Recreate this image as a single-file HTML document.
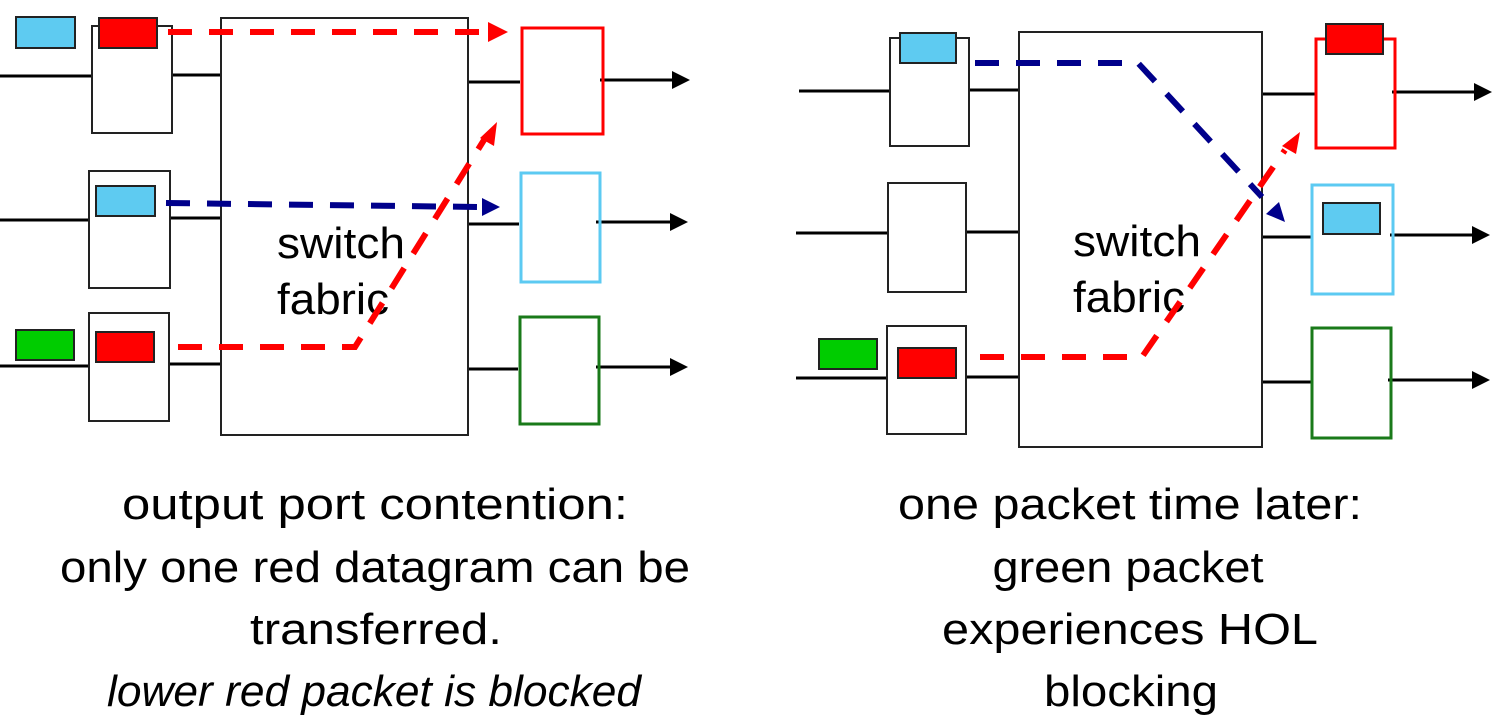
<!DOCTYPE html>
<html><head><meta charset="utf-8"><style>
html,body{margin:0;padding:0;background:#fff;}
svg{display:block;}
text{font-family:"Liberation Sans",sans-serif;fill:#000;}
</style></head><body>
<svg width="1500" height="727" viewBox="0 0 1500 727" xmlns="http://www.w3.org/2000/svg">
<g stroke="#000" stroke-width="3" fill="none">
<line x1="0" y1="76" x2="92" y2="76"/><line x1="170" y1="75" x2="222" y2="75"/>
<line x1="0" y1="220" x2="89" y2="220"/><line x1="168" y1="218" x2="222" y2="218"/>
<line x1="0" y1="366" x2="89" y2="366"/><line x1="168" y1="364" x2="222" y2="364"/>
<line x1="468" y1="82" x2="520" y2="82"/><line x1="600" y1="80" x2="676" y2="80"/>
<line x1="466" y1="224" x2="519" y2="224"/><line x1="596" y1="222" x2="674" y2="222"/>
<line x1="466" y1="369" x2="518" y2="369"/><line x1="596" y1="367" x2="674" y2="367"/>
</g>
<g fill="#000"><polygon points="690,80 672,71 672,89"/><polygon points="688,222 670,213 670,231"/><polygon points="688,367 670,358 670,376"/></g>
<g stroke="#222" stroke-width="2" fill="#fff">
<rect x="92" y="26" width="80" height="107"/>
<rect x="89" y="171" width="81" height="117"/>
<rect x="89" y="313" width="80" height="108"/>
<rect x="221" y="18" width="247" height="417"/>
</g>
<rect x="522" y="28" width="81" height="106" fill="none" stroke="#f00" stroke-width="3"/>
<rect x="521" y="173" width="79" height="109" fill="none" stroke="#5ccaf2" stroke-width="3"/>
<rect x="520" y="317" width="79" height="107" fill="none" stroke="#1a7a1a" stroke-width="3"/>
<g stroke="#222" stroke-width="2">
<rect x="16" y="17" width="59" height="31" fill="#5ecbf1"/>
<rect x="99" y="18" width="58" height="30" fill="#f00"/>
<rect x="96" y="186" width="59" height="30" fill="#5ecbf1"/>
<rect x="16" y="330" width="58" height="30" fill="#00cc00"/>
<rect x="96" y="332" width="58" height="30" fill="#f00"/>
</g>
<text x="277" y="258" font-size="44" textLength="128" lengthAdjust="spacingAndGlyphs">switch</text>
<text x="277" y="314" font-size="44" textLength="112" lengthAdjust="spacingAndGlyphs">fabric</text>
<g fill="none" stroke-width="6" stroke-dasharray="24,17">
<line x1="168" y1="32" x2="485" y2="32" stroke="#f00"/>
<line x1="166" y1="203" x2="478" y2="207" stroke="#00008b"/>
<polyline points="178,347 355,347 484,140" stroke="#f00"/>
</g>
<polygon points="508,32 488,22 488,42" fill="#f00"/>
<polygon points="500,207 482,198 482,216" fill="#00008b"/>
<polygon points="497,122 480,138 494,146" fill="#f00"/>

<g stroke="#000" stroke-width="3" fill="none">
<line x1="799" y1="91" x2="890" y2="91"/><line x1="966" y1="90" x2="1019" y2="90"/>
<line x1="796" y1="233" x2="888" y2="233"/><line x1="966" y1="232" x2="1019" y2="232"/>
<line x1="796" y1="378" x2="887" y2="378"/><line x1="966" y1="377" x2="1019" y2="377"/>
<line x1="1262" y1="94" x2="1316" y2="94"/><line x1="1392" y1="92" x2="1476" y2="92"/>
<line x1="1262" y1="237" x2="1312" y2="237"/><line x1="1390" y1="235" x2="1474" y2="235"/>
<line x1="1262" y1="382" x2="1312" y2="382"/><line x1="1388" y1="380" x2="1474" y2="380"/>
</g>
<g fill="#000"><polygon points="1492,92 1474,83 1474,101"/><polygon points="1490,235 1472,226 1472,244"/><polygon points="1490,380 1472,371 1472,389"/></g>
<g stroke="#222" stroke-width="2" fill="#fff">
<rect x="890" y="38" width="79" height="108"/>
<rect x="888" y="183" width="78" height="109"/>
<rect x="887" y="326" width="79" height="108"/>
<rect x="1019" y="32" width="243" height="415"/>
</g>
<rect x="1316" y="39" width="79" height="109" fill="none" stroke="#f00" stroke-width="3"/>
<rect x="1312" y="185" width="81" height="109" fill="none" stroke="#5ccaf2" stroke-width="3"/>
<rect x="1312" y="328" width="79" height="110" fill="none" stroke="#1a7a1a" stroke-width="3"/>
<g stroke="#222" stroke-width="2">
<rect x="900" y="33" width="56" height="30" fill="#5ecbf1"/>
<rect x="1326" y="24" width="57" height="30" fill="#f00"/>
<rect x="1323" y="203" width="57" height="31" fill="#5ecbf1"/>
<rect x="819" y="339" width="58" height="30" fill="#00cc00"/>
<rect x="898" y="348" width="58" height="30" fill="#f00"/>
</g>
<text x="1073" y="256" font-size="44" textLength="128" lengthAdjust="spacingAndGlyphs">switch</text>
<text x="1073" y="312" font-size="44" textLength="112" lengthAdjust="spacingAndGlyphs">fabric</text>
<g fill="none" stroke-width="6" stroke-dasharray="24,17">
<polyline points="975,63 1138,63 1262,197" stroke="#00008b"/>
<polyline points="980,357 1142,357 1285,150" stroke="#f00"/>
</g>
<polygon points="1285,222 1266,214 1279,202" fill="#00008b"/>
<polygon points="1300,132 1282,146 1296,154" fill="#f00"/>

<g font-size="44" text-anchor="middle">
<text x="375" y="519" textLength="506" lengthAdjust="spacingAndGlyphs">output port contention:</text>
<text x="375" y="582" textLength="630" lengthAdjust="spacingAndGlyphs">only one red datagram can be</text>
<text x="376" y="644" textLength="252" lengthAdjust="spacingAndGlyphs">transferred.</text>
<text x="374" y="706" font-style="italic" textLength="534" lengthAdjust="spacingAndGlyphs">lower red packet is blocked</text>
<text x="1130" y="519" textLength="464" lengthAdjust="spacingAndGlyphs">one packet time later:</text>
<text x="1128" y="582" textLength="271" lengthAdjust="spacingAndGlyphs">green packet</text>
<text x="1130" y="644" textLength="376" lengthAdjust="spacingAndGlyphs">experiences HOL</text>
<text x="1131" y="706" textLength="174" lengthAdjust="spacingAndGlyphs">blocking</text>
</g>
</svg>
</body></html>
